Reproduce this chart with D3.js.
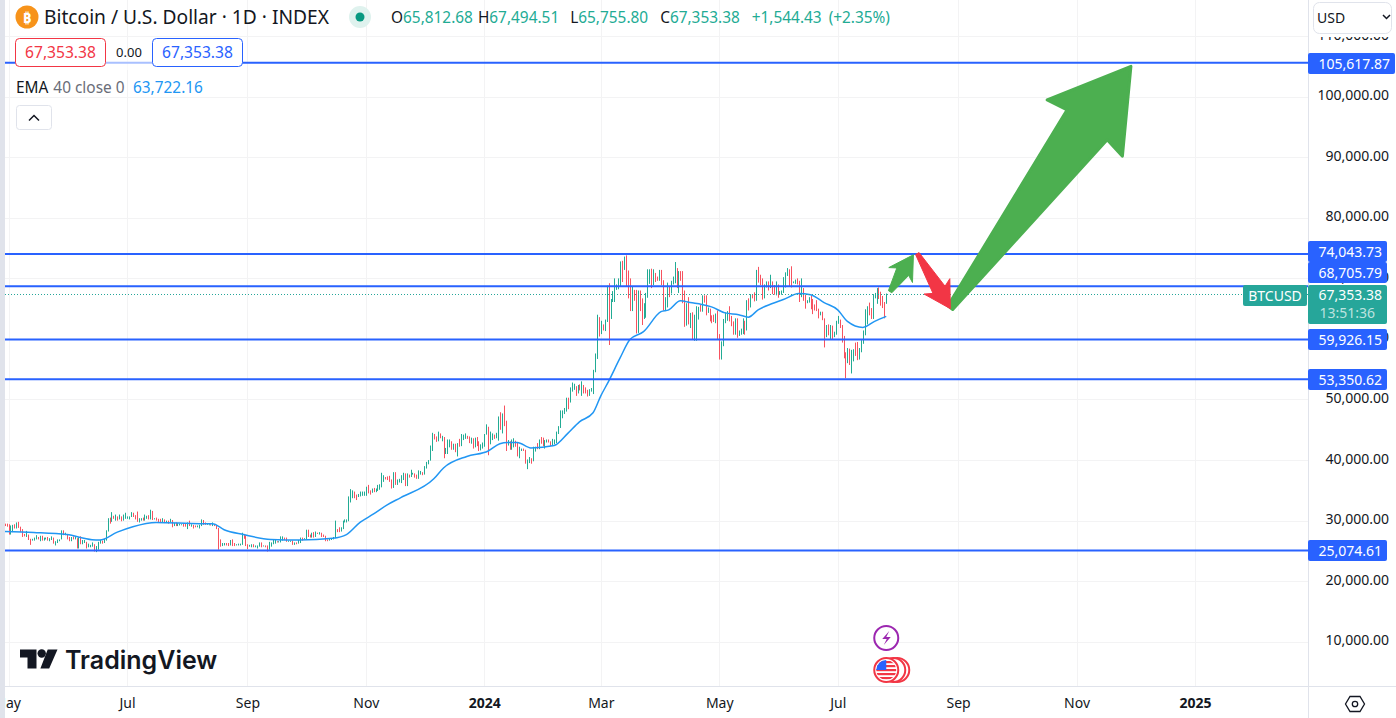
<!DOCTYPE html>
<html>
<head>
<meta charset="utf-8">
<script src="https://cdn.jsdelivr.net/npm/d3@7"></script>
<style>
  html, body { margin: 0; padding: 0; background: #fff; overflow: hidden; }
  svg { display: block; }
  text { font-family: "Noto Sans", "Open Sans", sans-serif; }
</style>
</head>
<body>
<div id="chart"></div>
<script>
// daily bars in thousand USD, one line per month, first bar 2023-04-29
const closes = [
  29.3,29.2,
  28.1,28.7,29.0,28.8,29.5,28.9,28.4,27.7,27.6,27.7,27.0,26.8,26.8,26.9,27.2,27.0,27.4,26.8,26.9,27.1,26.8,26.9,27.2,26.3,26.5,26.7,26.9,28.1,27.7,27.7,27.2,
  26.8,27.2,27.1,27.1,25.7,27.2,26.3,26.5,26.5,25.8,25.9,25.9,25.9,25.1,25.6,26.3,26.5,26.3,26.8,28.3,30.0,29.9,30.7,30.5,30.5,30.3,30.7,30.1,30.4,30.5,
  30.6,30.6,31.1,30.8,30.5,30.0,30.3,30.3,30.2,30.4,30.6,30.4,31.5,30.3,30.3,30.2,30.1,29.9,29.9,29.8,29.9,29.8,30.1,29.2,29.4,29.2,29.2,29.3,29.4,29.3,29.2,
  29.7,29.2,29.2,29.1,29.0,29.0,29.2,29.8,29.6,29.4,29.4,29.4,29.3,29.4,29.2,28.7,26.6,26.0,26.1,26.2,26.1,26.0,26.4,26.2,26.0,26.0,26.1,26.1,27.7,27.3,26.0,
  25.8,25.9,25.9,25.8,25.8,25.8,26.2,25.9,25.9,25.8,25.2,25.8,26.2,26.5,26.6,26.5,26.5,26.8,27.2,27.1,26.6,26.6,26.6,26.3,26.3,26.2,26.4,27.0,26.9,27.0,
  28.0,27.5,27.4,27.8,27.4,28.0,27.9,27.9,27.6,27.4,26.9,26.8,26.9,26.9,27.2,28.5,28.4,28.3,28.7,29.7,30.0,30.0,33.0,33.9,34.5,34.2,33.9,34.1,34.5,34.5,34.7,
  35.4,34.9,34.7,35.1,35.0,35.0,35.4,35.6,36.7,37.3,37.1,37.0,36.5,35.5,37.9,36.2,36.6,36.6,37.4,37.5,35.8,37.4,37.3,37.7,37.8,37.5,37.2,37.8,37.8,37.7,
  38.7,39.5,39.9,42.0,44.1,43.8,43.3,44.2,43.7,43.8,41.2,41.5,42.9,43.0,41.9,42.2,41.4,42.7,42.3,43.7,43.9,44.0,43.7,43.0,43.6,42.5,43.4,42.6,42.1,42.1,42.3,
  44.2,45.0,42.8,44.2,44.2,43.9,43.9,47.0,46.1,46.7,46.3,42.8,42.9,41.7,42.5,43.1,42.7,41.3,41.6,41.7,41.6,39.5,39.9,40.1,39.9,41.8,42.1,42.0,43.3,42.9,42.6,
  43.1,43.2,43.0,42.6,42.7,43.1,44.3,45.3,47.1,47.8,48.3,49.9,49.7,51.8,51.9,52.1,51.6,52.1,51.8,52.2,51.8,51.3,50.7,51.6,51.7,54.5,57.1,62.5,61.2,
  62.4,62.0,63.1,68.3,63.8,66.1,66.9,68.3,68.5,69.0,72.1,71.5,73.1,71.4,69.4,65.3,68.4,67.6,61.9,67.9,65.5,63.8,64.0,67.2,69.9,70.0,69.5,70.8,70.0,69.9,71.3,
  69.7,65.7,66.0,68.5,67.8,69.0,69.4,71.6,69.1,70.6,70.0,67.1,63.9,65.7,63.4,63.8,61.3,63.5,63.8,65.0,64.9,66.8,66.4,64.3,64.5,63.8,63.4,63.1,63.8,60.6,
  58.3,59.1,62.9,63.9,64.0,63.2,62.3,61.2,63.0,60.8,60.8,61.5,62.9,61.6,66.2,65.2,67.0,66.9,66.3,71.4,70.1,69.1,67.9,68.5,69.3,68.5,69.4,68.4,67.6,68.4,67.5,
  67.7,67.8,68.8,70.6,71.1,70.8,69.3,69.3,69.6,69.5,67.3,68.2,66.7,66.0,66.2,66.6,66.5,65.1,65.0,64.9,64.1,64.2,63.2,60.3,61.8,60.9,61.6,60.3,60.9,62.7,
  62.9,62.0,60.2,57.0,56.7,58.2,55.9,56.7,58.0,57.7,57.4,57.9,59.2,60.8,64.7,65.1,64.1,64.0,66.7,67.2,68.2,67.6,66.0,65.9,65.8,67.35
];
const highs = [
  29.5,29.5,
  29.4,29.2,29.3,29.4,29.7,29.8,29.0,28.6,27.8,28.3,27.7,27.0,27.0,27.2,27.6,27.3,27.5,27.5,27.2,27.2,27.3,27.1,27.4,27.2,26.6,26.9,26.9,28.4,28.4,28.0,27.8,
  27.3,27.3,27.4,27.4,27.1,27.3,27.4,26.8,26.8,26.5,26.2,26.0,26.4,26.1,25.8,26.5,26.8,26.7,27.0,28.4,30.4,30.5,31.4,30.8,31.0,30.7,31.0,30.7,31.0,31.3,
  30.7,30.7,31.4,31.3,30.9,31.5,30.4,30.4,30.5,31.0,30.8,30.9,31.8,31.6,30.4,30.5,30.3,30.3,30.4,30.2,30.0,30.0,30.3,30.1,29.6,29.7,29.6,29.5,29.4,29.5,29.5,
  29.7,30.0,29.4,29.3,29.2,29.2,29.3,30.2,30.1,29.7,29.5,29.4,29.4,29.7,29.4,29.3,28.8,26.9,26.3,26.3,26.3,26.3,26.8,26.9,26.3,26.1,26.2,26.2,28.0,27.8,27.6,
  26.1,26.0,26.1,26.1,25.9,25.9,26.4,26.4,25.9,25.9,25.9,26.5,26.4,26.8,26.8,26.6,26.6,27.4,27.4,27.2,27.2,26.7,26.7,26.7,26.4,26.4,26.8,27.2,27.2,27.1,
  28.5,28.5,27.7,28.0,28.1,28.2,28.0,28.1,28.0,27.7,27.5,26.9,27.1,27.0,27.3,30.0,28.6,28.9,28.9,30.0,30.2,30.2,34.0,35.2,35.0,34.8,34.3,34.4,34.8,34.8,34.8,
  35.6,35.9,35.0,35.3,35.4,35.3,35.9,36.0,37.9,37.5,37.2,37.3,37.4,36.8,38.0,38.0,36.8,36.9,37.5,37.9,37.8,37.8,37.6,38.4,37.9,37.8,37.6,38.3,38.2,38.0,
  39.0,39.7,40.0,42.4,44.5,44.3,43.9,44.7,44.4,44.0,43.8,42.0,43.4,43.4,43.1,42.7,42.7,42.8,43.5,44.3,44.2,44.4,44.0,43.9,43.7,43.6,43.7,43.8,43.1,42.6,42.9,
  44.3,45.9,45.5,44.7,44.4,44.2,44.5,47.2,47.9,47.7,49.0,46.5,43.3,43.1,43.4,43.6,43.2,42.9,42.2,41.9,41.9,41.7,40.1,40.5,40.3,42.2,42.2,42.8,43.4,43.8,43.7,
  43.3,43.4,43.4,43.1,43.5,43.4,44.7,45.6,48.2,48.2,48.6,50.3,50.3,52.0,52.8,52.6,52.2,52.4,52.5,53.0,52.4,52.0,51.6,51.7,51.9,54.9,57.6,64.0,63.6,
  63.0,62.4,63.2,68.8,69.2,66.6,67.9,70.0,69.0,70.0,72.8,72.9,73.6,73.8,71.3,70.0,68.7,68.1,68.1,68.0,68.0,66.7,65.9,67.6,71.5,71.5,71.6,71.5,70.9,70.3,71.4,
  71.4,69.7,66.9,69.3,68.7,69.6,70.3,72.7,71.7,71.2,71.2,71.2,68.0,65.9,66.9,64.3,64.4,64.0,65.4,65.3,65.6,67.2,67.2,67.2,65.2,65.0,63.9,64.0,64.2,64.7,
  60.8,59.6,63.3,64.4,64.6,65.4,63.8,62.9,63.4,63.4,61.4,61.7,63.4,63.0,66.4,66.7,67.4,67.4,67.7,71.4,71.9,70.6,70.0,69.0,69.5,69.5,70.6,69.5,68.9,69.5,69.0,
  67.9,68.0,70.2,71.0,71.7,71.5,72.0,69.5,69.8,70.0,69.6,70.0,68.4,67.3,66.4,66.9,67.2,66.6,65.7,66.4,65.0,64.5,64.5,63.4,62.3,62.4,62.3,62.2,61.2,63.0,
  63.8,63.2,62.3,60.5,57.8,58.5,58.4,58.2,58.3,59.4,59.5,58.5,59.8,61.4,64.9,65.4,66.0,65.1,67.4,67.6,68.4,68.5,67.8,67.1,66.1,67.5
];
const lows = [
  29.1,29.0,
  27.7,27.7,28.1,28.7,28.7,28.8,28.1,27.3,27.4,27.3,26.8,26.0,26.7,26.7,26.9,26.9,26.6,26.7,26.7,26.9,26.7,26.6,26.8,26.2,25.9,26.3,26.6,26.9,27.6,27.6,26.9,
  26.6,26.6,26.9,26.9,25.4,25.4,26.1,26.1,26.3,25.4,25.6,25.6,25.7,24.9,24.8,25.2,26.2,26.2,26.3,26.7,28.2,29.5,29.8,30.3,30.0,30.0,30.2,29.9,30.0,30.3,
  30.3,30.2,30.6,30.6,30.2,29.8,29.7,30.0,30.0,30.0,30.3,30.2,30.2,30.1,30.2,30.0,29.7,29.6,29.7,29.6,29.7,29.5,29.7,28.9,29.1,29.1,29.1,29.2,29.3,29.0,29.0,
  28.6,29.1,29.0,28.7,28.9,28.9,28.7,29.1,29.3,29.3,29.3,29.3,29.2,29.1,29.1,28.6,25.2,25.7,25.8,25.9,25.9,25.8,25.9,25.8,25.8,25.9,25.9,25.9,26.0,27.0,25.8,
  25.3,25.7,25.6,25.6,25.6,25.4,25.7,25.6,25.8,25.6,24.9,25.2,25.7,26.1,26.2,26.4,26.4,26.4,26.7,26.8,26.5,26.5,26.5,26.0,26.0,26.1,26.2,26.3,26.7,26.9,
  26.9,27.3,27.2,27.2,27.2,27.3,27.8,27.7,27.3,27.3,26.6,26.6,26.7,26.8,26.9,27.1,28.1,28.1,28.2,28.6,29.7,29.7,29.9,33.0,33.7,33.7,33.4,33.9,34.0,34.1,34.1,
  34.1,34.5,34.3,34.6,34.7,34.7,34.9,35.1,35.5,36.4,36.8,36.7,36.4,35.3,35.4,35.9,35.9,36.3,36.2,36.7,35.7,35.7,37.1,37.2,37.6,37.1,36.9,36.9,37.6,37.5,
  37.6,38.6,39.3,39.9,41.5,43.4,43.0,43.1,43.6,43.1,40.3,41.0,41.0,42.1,41.7,41.7,41.3,40.6,42.2,42.3,43.3,43.5,43.5,42.8,42.7,41.9,42.1,42.3,41.5,41.6,41.9,
  42.2,44.2,40.8,42.6,43.3,43.5,43.6,43.2,45.0,44.4,45.6,41.5,42.4,41.7,41.7,42.1,42.2,40.6,40.3,41.5,41.5,39.4,38.5,39.5,39.4,39.8,41.4,41.8,41.8,42.7,42.3,
  41.9,42.9,42.9,42.3,42.3,42.6,42.8,44.3,45.3,46.9,47.6,48.0,48.4,49.5,51.3,51.6,50.6,51.0,51.5,50.6,51.0,51.0,50.5,50.6,51.3,50.9,54.5,56.7,60.4,
  60.8,61.4,61.3,62.8,59.0,63.3,66.1,66.1,68.1,68.2,68.7,69.4,71.4,68.6,66.7,64.6,64.6,66.3,60.9,61.0,64.6,62.3,63.3,63.5,66.8,69.1,68.4,68.9,69.4,69.6,69.6,
  68.9,64.7,64.6,65.2,66.9,67.5,69.0,69.2,68.4,67.6,69.6,65.9,62.0,62.2,62.4,61.8,59.9,59.7,59.7,63.2,64.5,64.5,66.0,63.9,64.3,62.9,62.6,62.8,62.6,59.9,
  56.6,56.6,58.8,62.6,63.0,62.9,62.1,60.7,60.7,60.2,60.5,60.7,60.8,60.7,61.4,64.7,65.2,66.7,66.2,66.3,69.3,68.9,66.5,66.7,68.5,68.0,68.4,67.4,67.3,67.2,66.8,
  67.4,67.3,67.6,68.5,70.4,68.6,68.5,69.2,69.1,69.0,66.1,66.9,66.3,65.0,65.9,66.0,64.9,64.1,64.7,64.6,63.4,63.9,63.1,58.6,60.3,60.6,60.0,60.0,60.3,60.7,
  62.5,61.8,59.4,56.8,53.5,56.0,55.7,54.3,56.3,57.2,56.5,56.6,57.8,59.2,60.6,62.4,63.9,63.3,63.3,66.7,65.8,66.6,65.5,65.1,63.4,65.8
];

// EMA 40
const emaDates = ["2023-04-29","2023-05-14","2023-05-31","2023-06-13","2023-06-17","2023-06-26","2023-07-04","2023-07-16","2023-08-08","2023-08-14","2023-08-20","2023-08-30","2023-09-13","2023-09-28","2023-10-15","2023-10-22","2023-10-29","2023-11-05","2023-11-12","2023-11-19","2023-12-06","2023-12-11","2023-12-23","2024-01-03","2024-01-09","2024-01-13","2024-01-18","2024-01-25","2024-02-06","2024-02-13","2024-02-19","2024-02-26","2024-03-01","2024-03-05","2024-03-11","2024-03-16","2024-03-23","2024-04-01","2024-04-05","2024-04-11","2024-04-16","2024-04-22","2024-04-27","2024-05-04","2024-05-11","2024-05-16","2024-05-21","2024-05-28","2024-06-03","2024-06-11","2024-06-17","2024-06-24","2024-07-01","2024-07-06","2024-07-14","2024-07-20","2024-07-26"];
const emaValues = [28.2,28.05,27.7,26.85,26.8,28.1,29.0,29.7,29.5,29.5,28.5,27.7,26.9,26.8,27.1,27.7,29.7,31.1,32.6,33.8,36.9,38.7,40.6,41.5,42.7,42.9,42.9,42.0,42.4,44.4,46.3,47.8,50.6,53.0,56.9,59.9,61.2,64.5,64.8,66.3,66.0,65.7,65.3,64.3,64.0,63.6,64.8,65.8,66.5,67.5,67.3,66.0,64.8,62.9,61.9,62.9,63.72];

const priceTicks = [10000,20000,30000,40000,50000,60000,70000,80000,90000,100000,110000];
const timeTickDates = ["2023-05-01","2023-07-01","2023-09-01","2023-11-01","2024-01-01","2024-03-01","2024-05-01","2024-07-01","2024-09-01","2024-11-01","2025-01-01"];
const timeTickLabels = ["May","Jul","Sep","Nov","2024","Mar","May","Jul","Sep","Nov","2025"];
const levels = [105617.87,74043.73,68705.79,59926.15,53350.62,25074.61];
const lastPrice = 67353.38;
const countdown = "13:51:36";

// drawn arrows: [tail date, tail price, tip date, tip price]
const greenBig = ["2024-08-28",65160,"2024-11-29",105000];
const greenSmall = ["2024-07-28",67800,"2024-08-09",73900];
const redArrow = ["2024-08-11",74100,"2024-08-28",65000];

const width = 1396, height = 718;
const plotLeft = 5, plotRight = 1308, plotBottom = 686;
const blue = "#2962ff", teal = "#22ab94", tealDark = "#26a69a", red = "#f7525f", ink = "#131722", grid = "#f3f3f4", rule = "#e0e3eb";

const parseDay = s => new Date(s + "T00:00:00Z");
const firstDay = parseDay("2023-04-29");

const bars = closes.map((c, i) => ({
  date: d3.utcDay.offset(firstDay, i),
  open: (i ? closes[i - 1] : 29.4) * 1000,
  high: highs[i] * 1000,
  low: lows[i] * 1000,
  close: c * 1000
}));
const ema = emaDates.map((d, i) => ({ date: parseDay(d), value: emaValues[i] * 1000 }));

const x = d3.scaleUtc()
  .domain([parseDay("2023-07-01"), parseDay("2025-01-01")])
  .range([127, 1195]);
const y = d3.scaleLinear()
  .domain([0, 110000])
  .range([702.3, 36.14]);

const svg = d3.select("#chart").append("svg")
  .attr("width", width)
  .attr("height", height);

// grid
svg.append("g").selectAll("line").data(priceTicks).enter().append("line")
  .attr("x1", plotLeft).attr("x2", plotRight)
  .attr("y1", d => Math.round(y(d)) + 0.5).attr("y2", d => Math.round(y(d)) + 0.5)
  .attr("stroke", grid);
svg.append("g").selectAll("line").data(timeTickDates).enter().append("line")
  .attr("x1", d => Math.round(x(parseDay(d))) + 0.5).attr("x2", d => Math.round(x(parseDay(d))) + 0.5)
  .attr("y1", 0).attr("y2", plotBottom)
  .attr("stroke", grid);

// bars are too narrow for bodies at this zoom, just high-low
svg.append("g").selectAll("rect").data(bars).enter().append("rect")
  .attr("x", d => Math.round(x(d.date)))
  .attr("width", 1)
  .attr("y", d => y(d.high))
  .attr("height", d => Math.max(1, y(d.low) - y(d.high)))
  .attr("fill", d => d.close >= d.open ? teal : red);

const emaLine = d3.line()
  .x(d => x(d.date))
  .y(d => y(d.value))
  .curve(d3.curveMonotoneX);
svg.append("path")
  .datum(ema)
  .attr("d", emaLine)
  .attr("fill", "none")
  .attr("stroke", "#2196f3")
  .attr("stroke-width", 1.5);

// horizontal levels
svg.append("g").selectAll("line").data(levels).enter().append("line")
  .attr("x1", plotLeft).attr("x2", plotRight)
  .attr("y1", d => y(d)).attr("y2", d => y(d))
  .attr("stroke", blue)
  .attr("stroke-width", 2);

// last price dotted line
svg.append("line")
  .attr("x1", plotLeft).attr("x2", plotRight)
  .attr("y1", Math.round(y(lastPrice)) + 0.5).attr("y2", Math.round(y(lastPrice)) + 0.5)
  .attr("stroke", tealDark)
  .attr("stroke-dasharray", "1 2");

// arrow polygon from tail to tip, sizes in px
function arrowPath(a, headLen, headHalf, neckHalf, tailHalf) {
  const x0 = x(parseDay(a[0])), y0 = y(a[1]), x1 = x(parseDay(a[2])), y1 = y(a[3]);
  const len = Math.hypot(x1 - x0, y1 - y0);
  const ux = (x1 - x0) / len, uy = (y1 - y0) / len, nx = -uy, ny = ux;
  const at = (along, side) => [x1 - ux * along + nx * side, y1 - uy * along + ny * side];
  const pts = [at(0, 0), at(headLen, headHalf), at(headLen - 4, neckHalf), at(len, tailHalf),
    at(len, -tailHalf), at(headLen - 4, -neckHalf), at(headLen, -headHalf)];
  return d3.line()(pts) + "Z";
}
const arrows = svg.append("g");
arrows.append("path").attr("d", arrowPath(greenBig, 77, 47, 25, 3))
  .attr("fill", "#4caf50").attr("stroke", "#4caf50").attr("stroke-width", 3).attr("stroke-linejoin", "round");
arrows.append("path").attr("d", arrowPath(greenSmall, 24, 14, 7, 2))
  .attr("fill", "#4caf50").attr("stroke", "#4caf50").attr("stroke-width", 1).attr("stroke-linejoin", "round");
arrows.append("path").attr("d", arrowPath(redArrow, 26, 15, 7, 2))
  .attr("fill", "#f23645").attr("stroke", "#f23645").attr("stroke-width", 1).attr("stroke-linejoin", "round");

// price axis
const yAxis = d3.axisRight(y)
  .tickValues(priceTicks)
  .tickSize(0)
  .tickFormat(d3.format(",.2f"));
const yG = svg.append("g")
  .attr("transform", `translate(${plotRight},-1.5)`)
  .call(yAxis);
yG.select(".domain").remove();
yG.selectAll("text")
  .attr("x", 81)
  .attr("text-anchor", "end")
  .attr("fill", ink)
  .style("font-size", "14px")
  .style("font-family", '"Noto Sans"');

// time axis
const xAxis = d3.axisBottom(x)
  .tickValues(timeTickDates.map(parseDay))
  .tickSize(0)
  .tickFormat((d, i) => timeTickLabels[i]);
const xG = svg.append("g")
  .attr("transform", `translate(0,${plotBottom})`)
  .call(xAxis);
xG.select(".domain").remove();
xG.selectAll("text")
  .attr("y", 12)
  .attr("dx", (d, i) => i ? 0 : -2)
  .attr("fill", ink)
  .style("font-size", "14px")
  .style("font-family", '"Noto Sans"')
  .style("font-weight", (d, i) => /^20/.test(timeTickLabels[i]) ? 700 : 400);

// side rules and left strip
svg.append("line").attr("x1", plotRight + 0.5).attr("x2", plotRight + 0.5).attr("y1", 0).attr("y2", height).attr("stroke", rule);
svg.append("line").attr("x1", 0).attr("x2", width).attr("y1", plotBottom + 0.5).attr("y2", plotBottom + 0.5).attr("stroke", rule);
svg.append("rect").attr("x", 0).attr("y", 0).attr("width", plotLeft).attr("height", height).attr("fill", rule);

// currency box hides most of the top tick
svg.append("rect").attr("x", plotRight + 1).attr("y", 0).attr("width", 87).attr("height", 37).attr("fill", "#fff");
svg.append("rect").attr("x", 1313.5).attr("y", 2.5).attr("width", 78).attr("height", 31).attr("rx", 6)
  .attr("fill", "#fff").attr("stroke", rule);
svg.append("text").attr("x", 1317).attr("y", 23).attr("fill", ink).style("font-size", "14px").text("USD");
svg.append("path").attr("d", "M1383 15l3.5 3.5l3.5-3.5").attr("fill", "none").attr("stroke", ink).attr("stroke-width", 1.5);

// level labels, two top ones get pushed apart like the real scale does
const labelNudge = [0, -3, -14, 0, 0, 0];
const lvl = svg.append("g").selectAll("g").data(levels).enter().append("g")
  .attr("transform", (d, i) => `translate(${plotRight},${Math.round(y(d)) + labelNudge[i] - 10})`);
lvl.append("rect").attr("width", d => d >= 100000 ? 87 : 79).attr("height", 21).attr("rx", 2).attr("fill", blue);
lvl.append("text").attr("x", d => d >= 100000 ? 82 : 74).attr("y", 15.5).attr("text-anchor", "end").attr("fill", "#fff")
  .style("font-size", "14px").text(d => d3.format(",.2f")(d));

// last price label
const lastY = 285;
svg.append("rect").attr("x", plotRight).attr("y", lastY).attr("width", 79).attr("height", 39).attr("rx", 2).attr("fill", tealDark);
svg.append("text").attr("x", 1382).attr("y", lastY + 15).attr("text-anchor", "end").attr("fill", "#fff")
  .style("font-size", "14px").text(d3.format(",.2f")(lastPrice));
svg.append("text").attr("x", 1375).attr("y", lastY + 33).attr("text-anchor", "end").attr("fill", "#fff").attr("fill-opacity", 0.7)
  .style("font-size", "14px").text(countdown);
svg.append("rect").attr("x", 1243).attr("y", lastY).attr("width", 64).attr("height", 21).attr("rx", 2).attr("fill", tealDark);
svg.append("text").attr("x", 1275).attr("y", lastY + 15.5).attr("text-anchor", "middle").attr("fill", "#fff")
  .style("font-size", "14px").text("BTCUSD");

// legend
svg.append("circle").attr("cx", 27).attr("cy", 17).attr("r", 11.5).attr("fill", "#f7931a");
svg.append("text").attr("x", 27).attr("y", 22.5).attr("text-anchor", "middle").attr("fill", "#fff")
  .style("font-size", "15px").style("font-weight", 700).text("₿");
svg.append("text").attr("x", 44).attr("y", 24).attr("fill", ink).style("font-size", "19.2px")
  .text("Bitcoin / U.S. Dollar · 1D · INDEX");
svg.append("circle").attr("cx", 360).attr("cy", 17).attr("r", 11).attr("fill", "#dff2ee");
svg.append("circle").attr("cx", 360).attr("cy", 17).attr("r", 4.5).attr("fill", "#089981");

const ohlcNames = ["O", "H", "L", "C"];
const ohlcValues = ["65,812.68", "67,494.51", "65,755.80", "67,353.38"];
const ohlcGaps = [0, 5, 11, 12];
const ohlc = svg.append("text").attr("x", 391).attr("y", 23).style("font-size", "15.4px");
ohlcNames.forEach((n, i) => {
  ohlc.append("tspan").attr("dx", ohlcGaps[i]).attr("fill", ink).text(n);
  ohlc.append("tspan").attr("fill", teal).text(ohlcValues[i]);
});
ohlc.append("tspan").attr("dx", 12).attr("fill", teal).text("+1,544.43");
ohlc.append("tspan").attr("dx", 7).attr("fill", teal).text("(+2.35%)");

// buy/sell boxes
svg.append("rect").attr("x", 105).attr("y", 56).attr("width", 48).attr("height", 14).attr("fill", "#fff").attr("fill-opacity", 0.6);
[[15.5, "#f23645"], [152.5, blue]].forEach(b => {
  svg.append("rect").attr("x", b[0]).attr("y", 38.5).attr("width", 90).attr("height", 28).attr("rx", 4)
    .attr("fill", "#fff").attr("stroke", b[1]);
  svg.append("text").attr("x", b[0] + 45).attr("y", 58).attr("text-anchor", "middle").attr("fill", b[1])
    .style("font-size", "15.6px").text(d3.format(",.2f")(lastPrice));
});
svg.append("text").attr("x", 129).attr("y", 57).attr("text-anchor", "middle").attr("fill", ink)
  .style("font-size", "13px").text("0.00");

const emaLabel = svg.append("text").attr("x", 16).attr("y", 93).style("font-size", "15.4px");
emaLabel.append("tspan").attr("fill", ink).text("EMA");
emaLabel.append("tspan").attr("dx", 5).attr("fill", "#6a6d78").text("40 close 0");
svg.append("text").attr("x", 133).attr("y", 93).attr("fill", "#2196f3").style("font-size", "15.4px").text("63,722.16");

svg.append("rect").attr("x", 16.5).attr("y", 105.5).attr("width", 35).attr("height", 24).attr("rx", 3)
  .attr("fill", "#fff").attr("stroke", rule);
svg.append("path").attr("d", "M29 120.5l5-5l5 5").attr("fill", "none").attr("stroke", ink).attr("stroke-width", 1.5);

// logo
const logo = svg.append("g").attr("fill", "#131722");
logo.append("path").attr("d", "M20 649.5h16.5v19h-9v-11h-7.5zM47.7 649.5h9.8l-8.3 19h-8.8z");
logo.append("circle").attr("cx", 41.7).attr("cy", 653.5).attr("r", 4.2);
svg.append("text").attr("x", 65).attr("y", 669).attr("fill", "#131722")
  .style("font-family", "Inter").style("font-size", "25px").style("font-weight", 600).text("TradingView");

// event icons under the last bar
const evX = x(d3.utcDay.offset(firstDay, closes.length - 1));
svg.append("circle").attr("cx", evX).attr("cy", 638).attr("r", 12).attr("fill", "#fff").attr("stroke", "#9c27b0").attr("stroke-width", 2);
svg.append("path").attr("d", `M${evX + 3} 631l-7 8h4.5l-3 6l7-8h-4.5z`).attr("fill", "#9c27b0");
[11, 7, 0].forEach(dx => {
  svg.append("circle").attr("cx", evX + dx).attr("cy", 670).attr("r", 12).attr("fill", "#fff").attr("stroke", "#f23645").attr("stroke-width", 2);
});
const clip = svg.append("clipPath").attr("id", "flag");
clip.append("circle").attr("cx", evX).attr("cy", 670).attr("r", 10);
const flag = svg.append("g").attr("clip-path", "url(#flag)");
d3.range(5).forEach(i => {
  flag.append("rect").attr("x", evX - 11).attr("y", 661 + i * 4).attr("width", 22).attr("height", 2.2).attr("fill", "#f23645");
});
flag.append("rect").attr("x", evX - 11).attr("y", 660).attr("width", 11).attr("height", 10).attr("fill", "#2962ff");

// settings icon
svg.append("path").attr("d", "M1350 696.5h10l4.5 7.5l-4.5 7.5h-10l-4.5-7.5z").attr("fill", "none").attr("stroke", ink).attr("stroke-width", 1.3);
svg.append("circle").attr("cx", 1355).attr("cy", 704).attr("r", 2.7).attr("fill", "none").attr("stroke", ink).attr("stroke-width", 1.3);
</script>
</body>
</html>
